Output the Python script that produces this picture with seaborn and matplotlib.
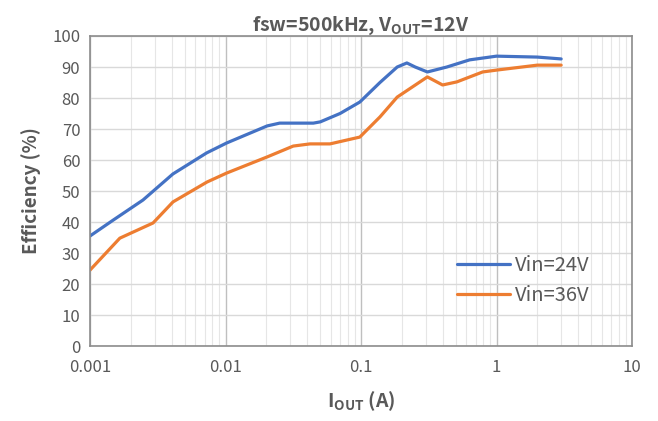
import numpy as np
import pandas as pd
import seaborn as sns
import matplotlib.pyplot as plt
from matplotlib.ticker import LogLocator, FixedLocator, NullFormatter

iout_24 = [0.001, 0.00148, 0.00246, 0.00409, 0.00726, 0.0102, 0.0203, 0.0251,
           0.0445, 0.050, 0.070, 0.098, 0.138, 0.185, 0.218, 0.251, 0.309,
           0.43, 0.633, 1.0, 2.0, 3.0]
eff_24 = [35.5, 40.6, 47.1, 55.5, 62.3, 65.5, 71.0, 71.9,
          71.9, 72.3, 75.0, 78.7, 85.0, 90.0, 91.3, 90.0, 88.4,
          90.0, 92.3, 93.5, 93.2, 92.6]

iout_36 = [0.001, 0.00166, 0.00292, 0.0041, 0.0073, 0.0102, 0.0203, 0.0316,
           0.042, 0.059, 0.098, 0.138, 0.185, 0.309, 0.40, 0.51, 0.79,
           1.0, 2.0, 3.0]
eff_36 = [24.5, 34.8, 39.7, 46.5, 52.9, 55.8, 61.0, 64.5,
          65.2, 65.2, 67.4, 73.9, 80.3, 86.8, 84.2, 85.2, 88.4,
          89.0, 90.6, 90.6]

labels = ['Vin=24V', 'Vin=36V']

df = pd.concat([
    pd.DataFrame({'iout': iout_24, 'eff': eff_24, 'series': labels[0]}),
    pd.DataFrame({'iout': iout_36, 'eff': eff_36, 'series': labels[1]}),
])

sns.set_style('white')
plt.rcParams['font.family'] = ['Noto Sans CJK SC', 'DejaVu Sans']

grey = '#595959'
fig = plt.figure(figsize=(6.58, 4.21), dpi=100)
ax = fig.add_axes([0.1368, 0.178, 0.8237, 0.7365])

sns.lineplot(data=df, x='iout', y='eff', hue='series', sort=False,
             palette=['#4472C4', '#ED7D31'], linewidth=2.3, ax=ax)

ax.set_xscale('log')
ax.set_xlim(0.001, 10)
ax.set_ylim(0, 100)
ax.set_yticks(range(0, 101, 10))
ax.xaxis.set_major_locator(FixedLocator([0.001, 0.01, 0.1, 1, 10]))
ax.set_xticklabels(['0.001', '0.01', '0.1', '1', '10'])
ax.xaxis.set_minor_locator(LogLocator(base=10, subs=np.arange(2, 10)))
ax.xaxis.set_minor_formatter(NullFormatter())

ax.grid(True, which='major', axis='y', color='#d9d9d9', linewidth=1)
ax.grid(True, which='major', axis='x', color='#bfbfbf', linewidth=1)
ax.grid(True, which='minor', axis='x', color='#e6e6e6', linewidth=0.8)
ax.set_axisbelow(True)

for s in ax.spines.values():
    s.set_color('#8c8c8c')
    s.set_linewidth(1.2)

ax.tick_params(axis='both', which='both', length=0, labelsize=12,
               labelcolor=grey)
ax.tick_params(axis='x', pad=9)
ax.tick_params(axis='y', pad=7)

ax.set_xlabel(r'I$_{\mathregular{OUT}}$ (A)', fontsize=14, fontweight='bold',
              color=grey, labelpad=10)
ax.set_ylabel('Efficiency (%)', fontsize=13.5, fontweight='bold', color=grey,
              labelpad=8)
ax.set_title(r'fsw=500kHz, V$_{\mathregular{OUT}}$=12V', fontsize=14,
             fontweight='bold', color=grey, pad=4)

ax.legend(loc='lower right', bbox_to_anchor=(0.955, 0.07), frameon=False,
          fontsize=14.5, labelcolor=grey, handlelength=2.6, handletextpad=0.25,
          labelspacing=0.45, title=None)

fig.savefig('out.png', dpi=100)
